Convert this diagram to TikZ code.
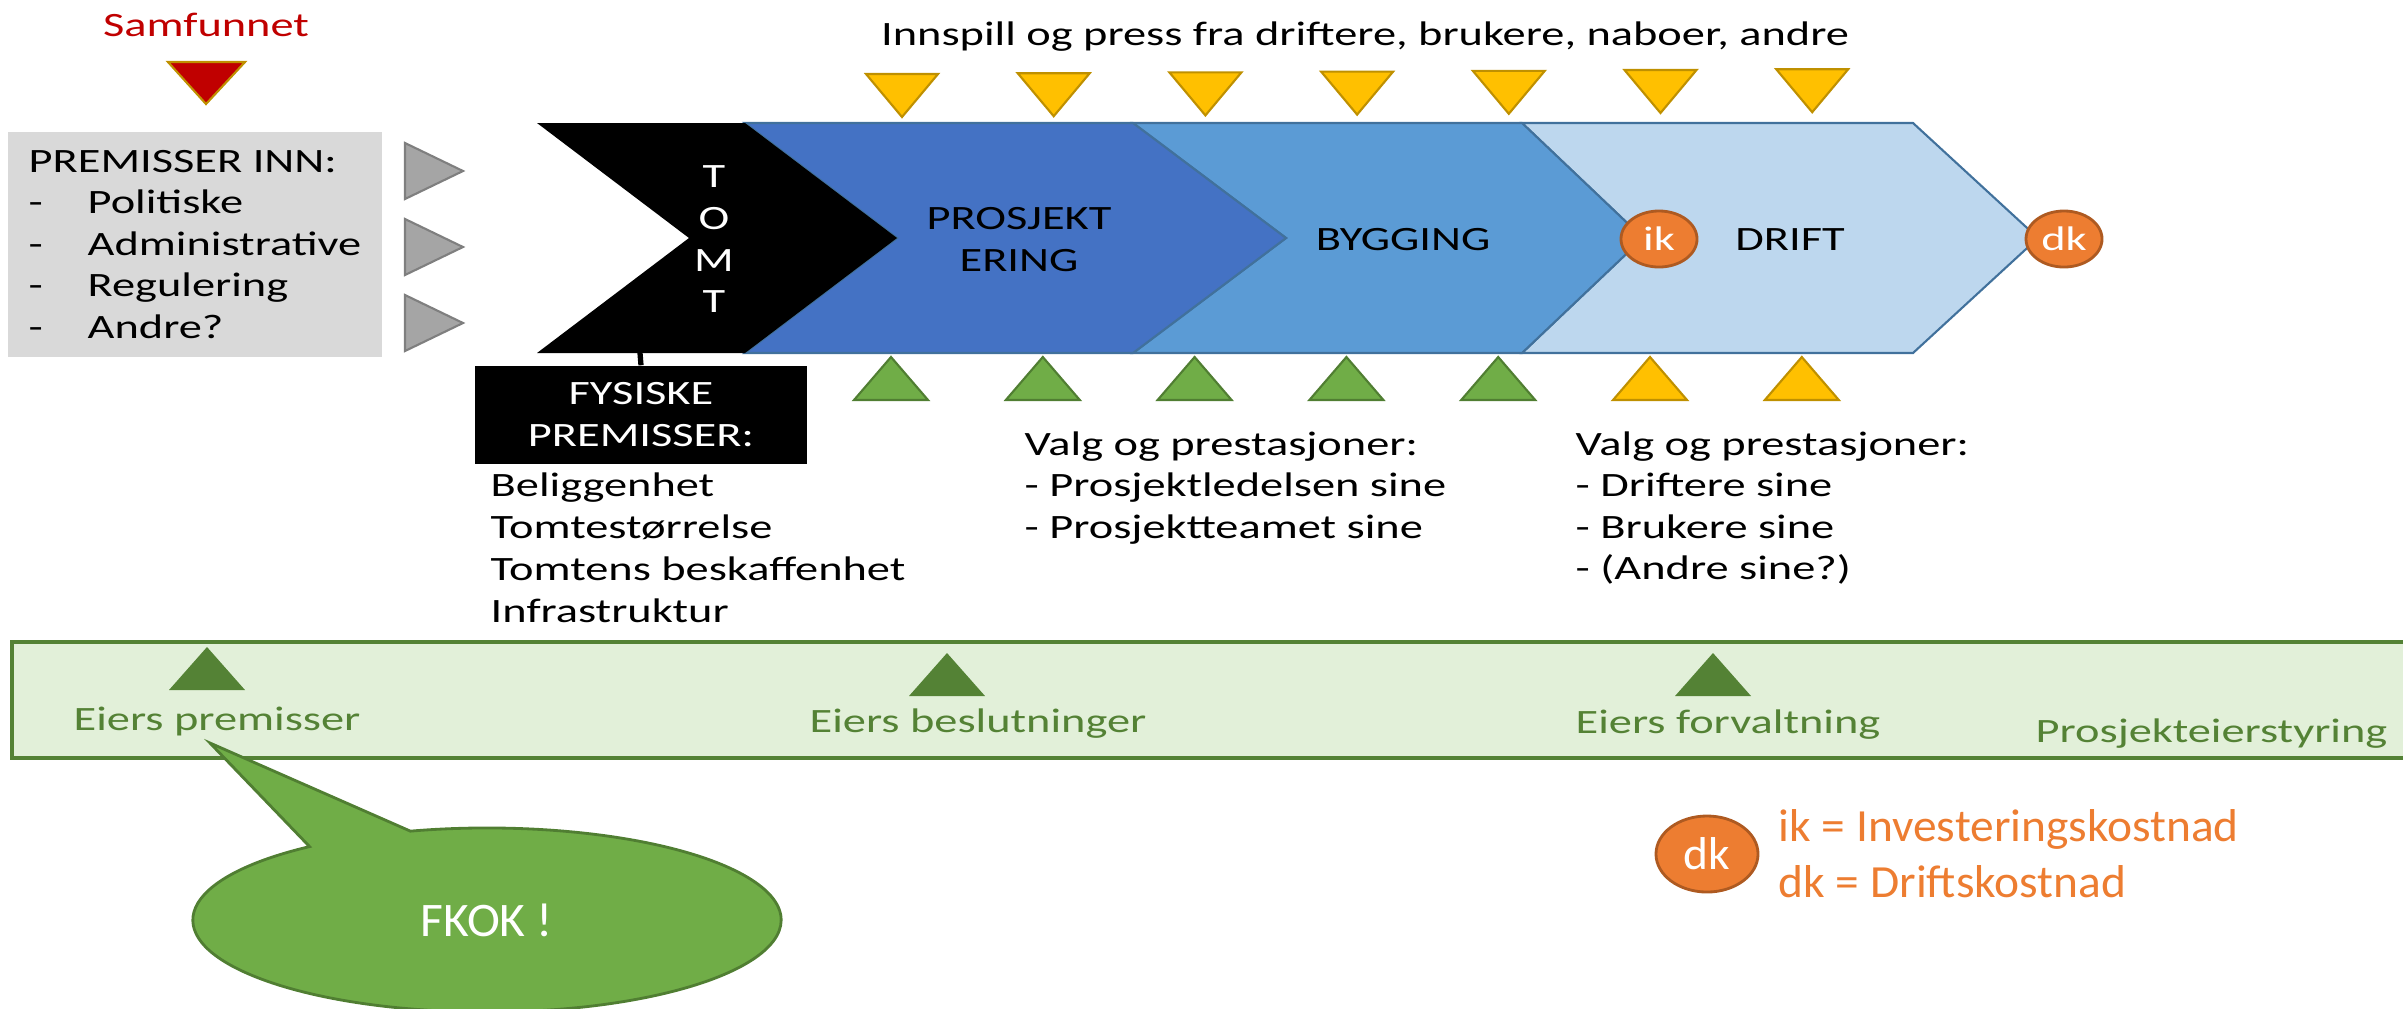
\documentclass[tikz,border=0pt]{standalone}
\usepackage{fontspec}
\setmainfont{Carlito}[FakeStretch=1.36]
\newfontfamily\bigfont{Carlito}[FakeStretch=1.03]
\usetikzlibrary{shapes.geometric,shapes.callouts}
\definecolor{samred}{HTML}{C00000}
\definecolor{goldline}{HTML}{BF9000}
\definecolor{gold}{HTML}{FFC000}
\definecolor{prosjblue}{HTML}{4472C4}
\definecolor{byggblue}{HTML}{5B9BD5}
\definecolor{driftblue}{HTML}{BDD7EE}
\definecolor{chevline}{HTML}{41719C}
\definecolor{grn}{HTML}{70AD47}
\definecolor{grnline}{HTML}{507E32}
\definecolor{darkgrn}{HTML}{548235}
\definecolor{bandgrn}{HTML}{E2F0D9}
\definecolor{premgray}{HTML}{D9D9D9}
\definecolor{trigray}{HTML}{A5A5A5}
\definecolor{triline}{HTML}{7F7F7F}
\definecolor{kost}{HTML}{ED7D31}
\definecolor{kostline}{HTML}{AE5A21}
\tikzset{
  txt/.style={inner sep=0pt, font=\fontsize{9.7}{11.95}\selectfont},
  bigtxt/.style={inner sep=0pt, font=\bigfont\fontsize{13.1}{15.9}\selectfont},
  chev/.style={draw=chevline, line width=0.6pt},
  gultri/.style={fill=gold, draw=goldline, line width=0.6pt},
  grntri/.style={fill=grn, draw=grnline, line width=0.6pt},
  kostbubble/.style={ellipse, fill=kost, draw=kostline, line width=0.8pt, text=white, inner sep=0pt, minimum width=0.76cm, minimum height=0.56cm}
}
\begin{document}
\begin{tikzpicture}[x=0.01cm,y=-0.01cm]
\useasboundingbox (0,0) rectangle (2403,1008);
\node[txt, text=samred, anchor=base] (samf) at (206,36) {Samfunnet};
\filldraw[fill=samred, draw=goldline, line width=0.6pt] (168,62) -- (245,62) -- (206,104) -- cycle;
\fill[premgray] (8,132) rectangle (382,357);
\node[txt, anchor=base west] (prem) at (28,172) {PREMISSER INN:};
\foreach \p [count=\i] in {Politiske,Administrative,Regulering,Andre?} {
  \node[txt, anchor=base west] (dash\i) at (28,{172+41.5*\i}) {-};
  \node[txt, anchor=base west] (prem\i) at (87,{172+41.5*\i}) {\p};
}
\foreach \y in {171,247,323}
  \filldraw[fill=trigray, draw=triline, line width=0.6pt] (405,{\y-28}) -- (463,\y) -- (405,{\y+28}) -- cycle;
\filldraw[chev, fill=driftblue] (1522,123) -- (1913,123) -- (2038,238) -- (1913,353) -- (1522,353) -- (1643,238) -- cycle;
\filldraw[chev, fill=byggblue] (1133,123) -- (1522,123) -- (1643,238) -- (1522,353) -- (1133,353) -- (1286,238) -- cycle;
\filldraw[chev, fill=prosjblue] (745,123) -- (1133,123) -- (1286,238) -- (1133,353) -- (745,353) -- (897,238) -- cycle;
\fill[black] (537,123) -- (745,123) -- (897,238) -- (745,353) -- (537,353) -- (689,238) -- cycle;
\foreach \l [count=\i] in {T,O,M,T}
  \node[txt, text=white, anchor=base] (tomt\i) at (714,{146+41.7*\i}) {\l};
\node[txt, anchor=base] (prosj) at (1019,229) {PROSJEKT};
\node[txt, anchor=base] (ering) at (1019,271) {ERING};
\node[txt, anchor=base] (bygg) at (1403,250) {BYGGING};
\node[txt, anchor=base] (drift) at (1790,250) {DRIFT};
\node[txt, kostbubble] (ik) at (1659,239) {ik};
\node[txt, kostbubble] (dk) at (2064,239) {dk};
\node[txt, anchor=base] (innspill) at (1365,45) {Innspill og press fra driftere, brukere, naboer, andre};
\foreach \i in {0,...,6}
  \filldraw[gultri] ({866+151.7*\i},{74-0.8*\i}) -- ++(72,0) -- ++(-36,43) -- cycle;
\foreach \i in {0,...,4}
  \filldraw[grntri] ({854+151.8*\i},400) -- ++(74,0) -- ++(-37,-43) -- cycle;
\foreach \i in {5,6}
  \filldraw[gultri] ({854+151.8*\i},400) -- ++(74,0) -- ++(-37,-43) -- cycle;
\node[txt, fill=black, text=white, align=center, minimum width=3.32cm, minimum height=0.98cm] (fys) at (641,415) {FYSISKE\\PREMISSER:};
\coordinate (tomtfot) at (640,353);
\draw[line width=1.5pt] (tomtfot) -- (fys.north);
\foreach \f [count=\i] in {Beliggenhet,Tomtestørrelse,Tomtens beskaffenhet,Infrastruktur}
  \node[txt, anchor=base west] (fys\i) at (490,{454+42*\i}) {\f};
\node[txt, anchor=base west] (valgp) at (1024,455) {Valg og prestasjoner:};
\foreach \v [count=\i] in {Prosjektledelsen sine,Prosjektteamet sine}
  \node[txt, anchor=base west] (valgp\i) at (1024,{455+41.5*\i}) {- \v};
\node[txt, anchor=base west] (valgd) at (1575,455) {Valg og prestasjoner:};
\foreach \v [count=\i] in {Driftere sine,Brukere sine,{(Andre sine?)}}
  \node[txt, anchor=base west] (valgd\i) at (1575,{455+41.5*\i}) {- \v};
\filldraw[fill=bandgrn, draw=darkgrn, line width=1pt] (12,642) rectangle (2430,758);
\foreach \x/\t in {207/647,947/653,1713/653}
  \fill[darkgrn] ({\x-38},{\t+43}) -- ({\x+38},{\t+43}) -- (\x,\t) -- cycle;
\node[txt, text=darkgrn, anchor=base west] (eprem) at (73,730) {Eiers premisser};
\node[txt, text=darkgrn, anchor=base west] (ebesl) at (809,732) {Eiers beslutninger};
\node[txt, text=darkgrn, anchor=base west] (eforv) at (1575,733) {Eiers forvaltning};
\node[txt, text=darkgrn, anchor=base west] (pstyr) at (2035,742) {Prosjekteierstyring};
\coordinate (fkoktip) at (210,743);
\node[ellipse callout, fill=grn, draw=grnline, line width=0.8pt, minimum width=5.88cm, minimum height=1.84cm, inner sep=0pt, callout absolute pointer={(fkoktip)}, callout pointer arc=22, text=white, font=\bigfont\fontsize{13.7}{16}\selectfont] (fkok) at (487,920) {FKOK !};
\node[kostbubble, bigtxt, minimum width=1.02cm, minimum height=0.76cm] (dkleg) at (1707,854) {dk};
\node[bigtxt, text=kost, anchor=base west] (ikleg) at (1778,841) {ik = Investeringskostnad};
\node[bigtxt, text=kost, anchor=base west] (dkleg2) at (1778,897) {dk = Driftskostnad};
\end{tikzpicture}
\end{document}
